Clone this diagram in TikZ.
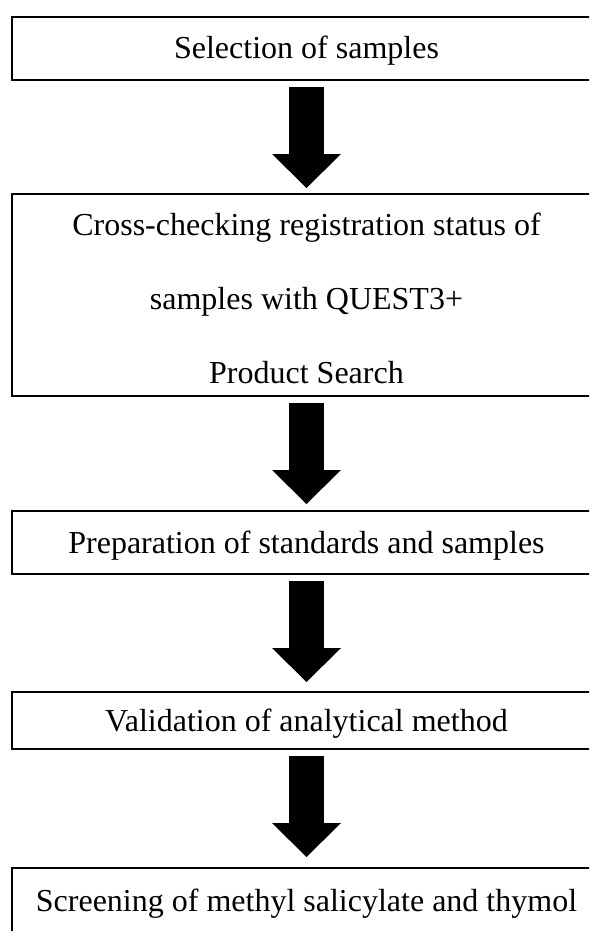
\documentclass[tikz,border=0pt]{standalone}
\usepackage{fontspec}
\setmainfont{Liberation Serif}
\usetikzlibrary{arrows.meta}

\begin{document}
\begin{tikzpicture}[x=1pt, y=-1pt,
  stepbox/.style={draw=black, line width=2pt, outer sep=0pt, inner sep=0pt,
    minimum width=589pt, text height=21pt, text depth=0pt,
    font=\fontsize{32}{37}\selectfont},
  bodytext/.style={align=center, inner sep=0pt, anchor=north,
    font=\fontsize{32}{74}\selectfont},
  bigarrow/.style={line width=35pt, black, shorten <=7pt,
    -{Triangle[width=69pt, length=34pt, line width=0pt]}}
]
\useasboundingbox (0,0) rectangle (589,931);
\clip (0,0) rectangle (589,931);

% process steps
\node[stepbox, minimum height=63pt]  (b1) at (306.5,48.5) {Selection of samples};
\node[stepbox, minimum height=202pt, text height=, text depth=] (b2) at (306.5,295) {};
\node[bodytext] (b2t) at (306.5,213) {Cross-checking registration status of\\samples with QUEST3+\\Product Search};
\node[stepbox, minimum height=63pt]  (b3) at (306.5,542.5) {Preparation of standards and samples};
\node[stepbox, minimum height=57pt]  (b4) at (306.5,720.5) {Validation of analytical method};
\node[stepbox, minimum height=66pt]  (b5) at (306.5,901) {Screening of methyl salicylate and thymol};

% block arrows between the steps
\draw[bigarrow, shorten >=6pt]  (b1.south) -- (b2.north);
\draw[bigarrow, shorten >=7pt]  (b2.south) -- (b3.north);
\draw[bigarrow, shorten >=10pt] (b3.south) -- (b4.north);
\draw[bigarrow, shorten >=11pt] (b4.south) -- (b5.north);
\end{tikzpicture}
\end{document}
